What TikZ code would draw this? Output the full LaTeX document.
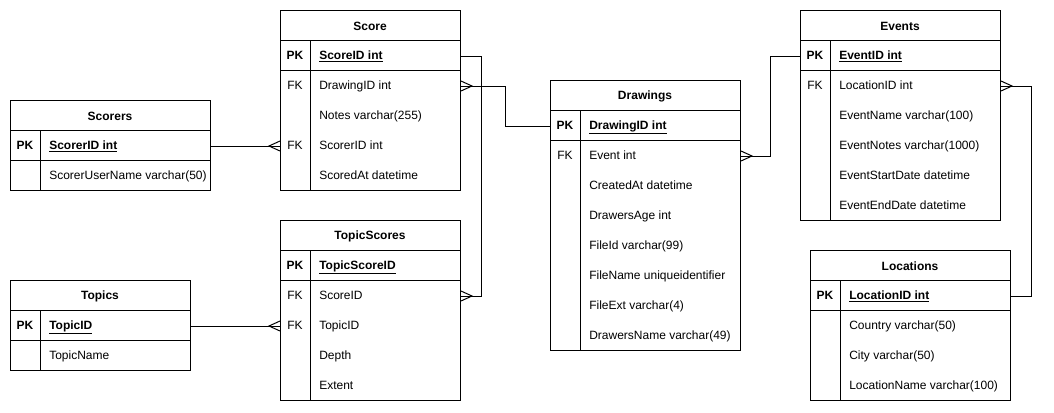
\documentclass[tikz,border=0pt]{standalone}
\usepackage{fontspec}
\setmainfont{Liberation Sans}
\usetikzlibrary{calc}
\tikzset{
  x=0.75pt, y=-0.75pt,
  every node/.style={font=\fontsize{9pt}{11pt}\selectfont},
  tbl/.style={draw, line width=0.75pt, inner sep=0pt, anchor=north west},
  conn/.style={line width=0.75pt},
  ttl/.style={font=\fontsize{9pt}{11pt}\selectfont\bfseries, inner sep=0pt, yshift=-0.9pt},
  keyl/.style={inner sep=0pt, text height=6.6pt, text depth=1.9pt, yshift=-0.75pt},
  fld/.style={anchor=west, inner sep=0pt, text height=6.6pt, text depth=1.9pt, yshift=-0.75pt},
}
% #1 name, #2 left, #3 top, #4 width, #5 height, #6 title
\newcommand\ertable[6]{%
  \node[tbl, minimum width={#4*0.75pt}, minimum height={#5*0.75pt}] (#1) at (#2,#3) {};
  \draw[conn] (#2,#3+30) -- ++(#4,0) (#2,#3+60) -- ++(#4,0) (#2+30,#3+30) -- (#2+30,#3+#5);
  \node[ttl] (#1-title) at (#2+#4/2,#3+15) {#6};
}
% #1 row name, #2 table left, #3 y, #4 key text, #5 field text
\newcommand\errow[5]{%
  \node[keyl] (#1-key) at (#2+15,#3) {#4};
  \node[fld] (#1) at (#2+39,#3) {#5};
}
% crow's foot: #1 coordinate at box edge, #2 apex offset
\newcommand\crow[2]{%
  \draw[conn] ($(#1)+(0,-5)$) -- ($(#1)+(#2,0)$) -- ($(#1)+(0,5)$);
}
\newcommand\pkf[1]{\bfseries\underline{#1}}
\begin{document}
\begin{tikzpicture}
\fill[white] (0,0) rectangle (1054,412);
\useasboundingbox (0,0) rectangle (1054,412);

% Score
\ertable{score}{280}{10}{180}{180}{Score}
\errow{score-pk}{280}{55}{\bfseries PK}{\pkf{ScoreID int}}
\errow{score-drawing}{280}{85}{FK}{DrawingID int}
\errow{score-notes}{280}{115}{}{Notes varchar(255)}
\errow{score-scorer}{280}{145}{FK}{ScorerID int}
\errow{score-at}{280}{175}{}{ScoredAt datetime}

% Scorers
\ertable{scorers}{10}{100}{200}{90}{Scorers}
\errow{scorers-pk}{10}{145}{\bfseries PK}{\pkf{ScorerID int}}
\errow{scorers-name}{10}{175}{}{ScorerUserName varchar(50)}

% TopicScores
\ertable{ts}{280}{220}{180}{180}{TopicScores}
\errow{ts-pk}{280}{265}{\bfseries PK}{\pkf{TopicScoreID}}
\errow{ts-score}{280}{295}{FK}{ScoreID}
\errow{ts-topic}{280}{325}{FK}{TopicID}
\errow{ts-depth}{280}{355}{}{Depth}
\errow{ts-extent}{280}{385}{}{Extent}

% Topics
\ertable{topics}{10}{280}{180}{90}{Topics}
\errow{topics-pk}{10}{325}{\bfseries PK}{\pkf{TopicID}}
\errow{topics-name}{10}{355}{}{TopicName}

% Drawings
\ertable{dr}{550}{80}{190}{270}{Drawings}
\errow{dr-pk}{550}{125}{\bfseries PK}{\pkf{DrawingID int}}
\errow{dr-event}{550}{155}{FK}{Event int}
\errow{dr-created}{550}{185}{}{CreatedAt datetime}
\errow{dr-age}{550}{215}{}{DrawersAge int}
\errow{dr-fileid}{550}{245}{}{FileId varchar(99)}
\errow{dr-filename}{550}{275}{}{FileName uniqueidentifier}
\errow{dr-fileext}{550}{305}{}{FileExt varchar(4)}
\errow{dr-name}{550}{335}{}{DrawersName varchar(49)}

% Events
\ertable{ev}{800}{10}{200}{210}{Events}
\errow{ev-pk}{800}{55}{\bfseries PK}{\pkf{EventID int}}
\errow{ev-loc}{800}{85}{FK}{LocationID int}
\errow{ev-name}{800}{115}{}{EventName varchar(100)}
\errow{ev-notes}{800}{145}{}{EventNotes varchar(1000)}
\errow{ev-start}{800}{175}{}{EventStartDate datetime}
\errow{ev-end}{800}{205}{}{EventEndDate datetime}

% Locations
\ertable{loc}{810}{250}{200}{150}{Locations}
\errow{loc-pk}{810}{295}{\bfseries PK}{\pkf{LocationID int}}
\errow{loc-country}{810}{325}{}{Country varchar(50)}
\errow{loc-city}{810}{355}{}{City varchar(50)}
\errow{loc-name}{810}{385}{}{LocationName varchar(100)}

% connection points
\coordinate (a1) at (score-pk -| score.east);
\coordinate (b1) at (ts-score -| ts.east);
\coordinate (a2) at (dr-pk -| dr.west);
\coordinate (b2) at (score-drawing -| score.east);
\coordinate (a3) at (scorers-pk -| scorers.east);
\coordinate (b3) at (score-scorer -| score.west);
\coordinate (a4) at (topics-pk -| topics.east);
\coordinate (b4) at (ts-topic -| ts.west);
\coordinate (a5) at (ev-pk -| ev.west);
\coordinate (b5) at (dr-event -| dr.east);
\coordinate (a6) at (loc-pk -| loc.east);
\coordinate (b6) at (ev-loc -| ev.east);

% connectors
\draw[conn] (a1) -- ++(20,0) |- (b1);
\draw[conn] (a2) -- ++(-45,0) |- (b2);
\draw[conn] (a3) -- (b3);
\draw[conn] (a4) -- (b4);
\draw[conn] (a5) -- ++(-30,0) |- (b5);
\draw[conn] (a6) -- ++(20,0) |- (b6);

\crow{b1}{11}
\crow{b2}{11}
\crow{b3}{-11}
\crow{b4}{-11}
\crow{b5}{11}
\crow{b6}{11}
\end{tikzpicture}
\end{document}
